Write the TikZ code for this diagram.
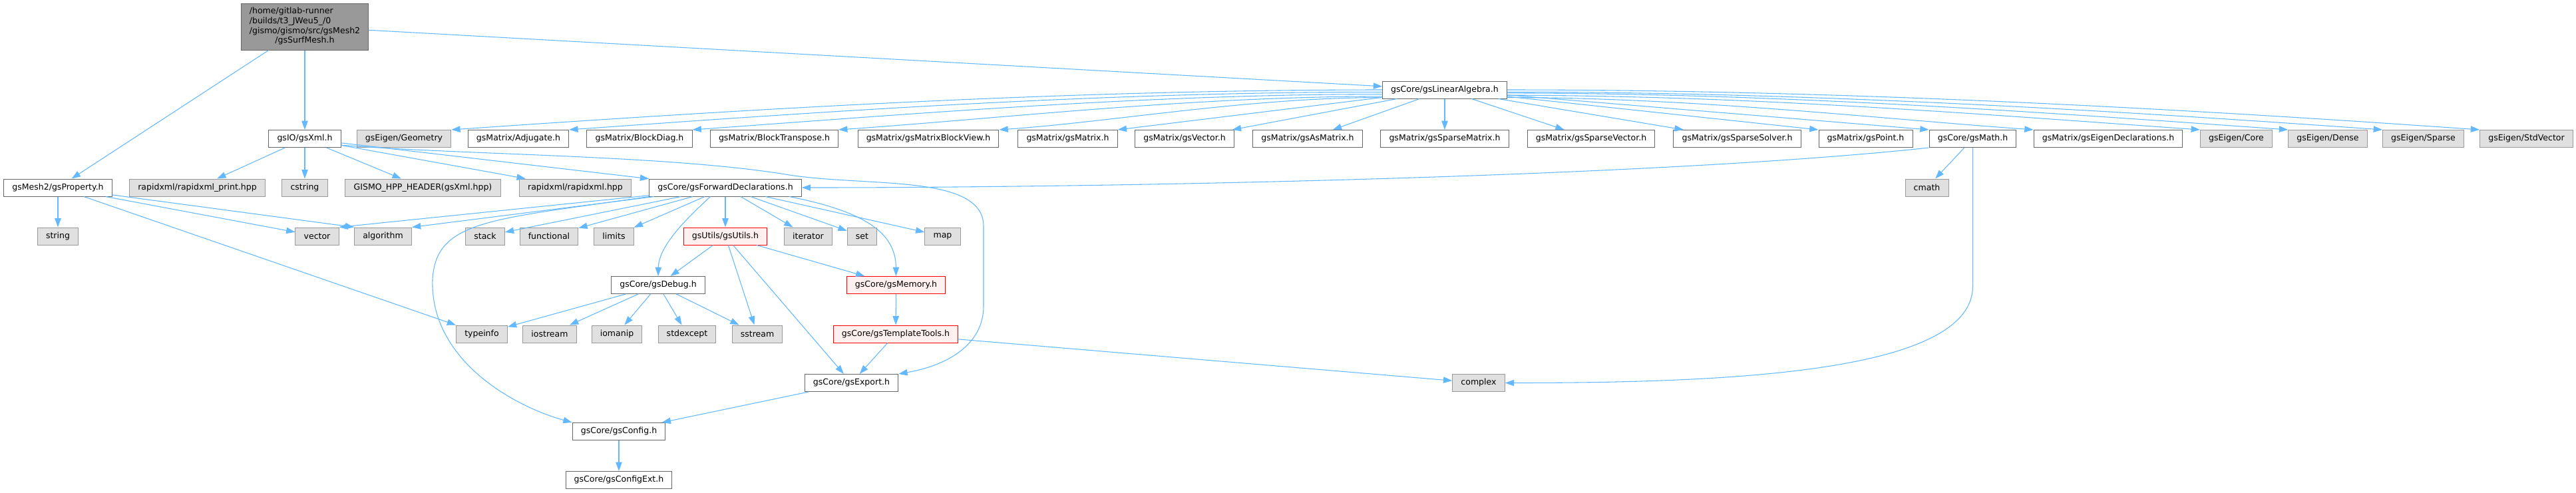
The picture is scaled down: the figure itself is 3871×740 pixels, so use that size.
\documentclass[tikz,border=0pt]{standalone}
\usepackage{fontspec}
\setmainfont{DejaVu Sans}
\usetikzlibrary{arrows.meta}
\definecolor{edgeblue}{HTML}{63B8FF}
\definecolor{syscol}{HTML}{E0E0E0}
\definecolor{rootcol}{HTML}{999999}
\definecolor{cutcol}{HTML}{FFF0F0}
\tikzset{
  hdr/.style={draw=black!60, fill=white, line width=0.75pt, minimum height=19.5pt, inner xsep=9.5pt, inner ysep=0pt, font=\fontsize{9.4}{11}\selectfont},
  syshdr/.style={hdr, fill=syscol, draw=black!40},
  cuthdr/.style={hdr, fill=cutcol, draw=red},
  roothdr/.style={hdr, fill=rootcol, draw=black!60, minimum height=52.5pt, inner xsep=9pt},
  incl/.style={draw=edgeblue, line width=0.8pt, -{Triangle[length=10pt,width=7pt]}}
}
\begin{document}
\begin{tikzpicture}[x=0.75pt, y=-0.75pt]
  \useasboundingbox (0,0) rectangle (3871,740);
  \node[roothdr] (gsSurfMesh) at (458,40) {\begin{tabular}{@{}l@{}}/home/gitlab-runner\\/builds/t3\_JWeu5\_/0\\/gismo/gismo/src/gsMesh2\\\multicolumn{1}{@{}c@{}}{/gsSurfMesh.h}\end{tabular}};
  \node[hdr] (gsLinAlg) at (2171,135) {gsCore/gsLinearAlgebra.h};
  \node[hdr] (gsXml) at (458,208.5) {gsIO/gsXml.h};
  \node[syshdr] (eigGeometry) at (607,208.5) {gsEigen/Geometry};
  \node[hdr] (adjugate) at (779,208.5) {gsMatrix/Adjugate.h};
  \node[hdr] (blockDiag) at (961,208.5) {gsMatrix/BlockDiag.h};
  \node[hdr] (blockTranspose) at (1163.5,208.5) {gsMatrix/BlockTranspose.h};
  \node[hdr] (blockView) at (1395,208.5) {gsMatrix/gsMatrixBlockView.h};
  \node[hdr] (gsMatrix) at (1604.5,208.5) {gsMatrix/gsMatrix.h};
  \node[hdr] (gsVector) at (1780,208.5) {gsMatrix/gsVector.h};
  \node[hdr] (gsAsMatrix) at (1965,208.5) {gsMatrix/gsAsMatrix.h};
  \node[hdr] (sparseMatrix) at (2171,208.5) {gsMatrix/gsSparseMatrix.h};
  \node[hdr] (sparseVector) at (2391,208.5) {gsMatrix/gsSparseVector.h};
  \node[hdr] (sparseSolver) at (2610.5,208.5) {gsMatrix/gsSparseSolver.h};
  \node[hdr] (gsPoint) at (2803.5,208.5) {gsMatrix/gsPoint.h};
  \node[hdr] (gsMath) at (2964.5,208.5) {gsCore/gsMath.h};
  \node[hdr] (eigenDecl) at (3168,208.5) {gsMatrix/gsEigenDeclarations.h};
  \node[syshdr] (eigCore) at (3360.5,208.5) {gsEigen/Core};
  \node[syshdr] (eigDense) at (3498,208.5) {gsEigen/Dense};
  \node[syshdr] (eigSparse) at (3641.5,208.5) {gsEigen/Sparse};
  \node[syshdr] (eigStdVector) at (3796.5,208.5) {gsEigen/StdVector};
  \node[hdr] (gsProperty) at (87,282) {gsMesh2/gsProperty.h};
  \node[syshdr] (rapidPrint) at (296.5,282) {rapidxml/rapidxml\_print.hpp};
  \node[syshdr] (stdCstring) at (458,282) {cstring};
  \node[syshdr] (gismoHpp) at (635.5,282) {GISMO\_HPP\_HEADER(gsXml.hpp)};
  \node[syshdr] (rapidxml) at (864.5,282) {rapidxml/rapidxml.hpp};
  \node[hdr] (gsFwdDecl) at (1090,282) {gsCore/gsForwardDeclarations.h};
  \node[syshdr] (stdCmath) at (2895.5,282) {cmath};
  \node[syshdr] (stdString) at (87,355) {string};
  \node[syshdr] (stdVector) at (476.5,355) {vector};
  \node[syshdr] (stdAlgorithm) at (575.5,355) {algorithm};
  \node[syshdr] (stdStack) at (729,355) {stack};
  \node[syshdr] (stdFunctional) at (825,355) {functional};
  \node[syshdr] (stdLimits) at (922.5,355) {limits};
  \node[cuthdr] (gsUtils) at (1090,355) {gsUtils/gsUtils.h};
  \node[syshdr] (stdIterator) at (1214.5,355) {iterator};
  \node[syshdr] (stdSet) at (1295.5,355) {set};
  \node[syshdr] (stdMap) at (1416.5,355) {map};
  \node[hdr] (gsDebug) at (989,428.5) {gsCore/gsDebug.h};
  \node[cuthdr] (gsMemory) at (1346.5,428.5) {gsCore/gsMemory.h};
  \node[syshdr] (stdTypeinfo) at (724,502) {typeinfo};
  \node[syshdr] (stdIostream) at (826,502) {iostream};
  \node[syshdr] (stdIomanip) at (927,502) {iomanip};
  \node[syshdr] (stdStdexcept) at (1032.5,502) {stdexcept};
  \node[syshdr] (stdSstream) at (1138,502) {sstream};
  \node[cuthdr] (gsTemplateTools) at (1346,502) {gsCore/gsTemplateTools.h};
  \node[hdr] (gsExport) at (1279.5,575.5) {gsCore/gsExport.h};
  \node[syshdr] (stdComplex) at (2222,575.5) {complex};
  \node[hdr] (gsConfig) at (930,648.5) {gsCore/gsConfig.h};
  \node[hdr] (gsConfigExt) at (930,721.5) {gsCore/gsConfigExt.h};

  \draw[incl] (gsSurfMesh) -- (gsProperty);
  \draw[incl] (gsSurfMesh) -- (gsXml);
  \draw[incl] (gsSurfMesh) -- (gsLinAlg);
  \draw[incl] (gsLinAlg.180.5) .. controls +(-490,0) and +(420,-29) .. (eigGeometry.north east);
  \draw[incl] (gsLinAlg.182.5) .. controls +(-430,0) and +(366,-26) .. (adjugate.north east);
  \draw[incl] (gsLinAlg.184.5) .. controls +(-360,0) and +(310,-22) .. (blockDiag.north east);
  \draw[incl] (gsLinAlg.186) .. controls +(-285,0) and +(245,-17) .. (blockTranspose.north east);
  \draw[incl] (gsLinAlg.187.5) .. controls +(-200,0) and +(172,-12) .. (blockView.north east);
  \draw[incl] (gsLinAlg) -- (gsMatrix.north east);
  \draw[incl] (gsLinAlg) -- (gsVector);
  \draw[incl] (gsLinAlg) -- (gsAsMatrix);
  \draw[incl] (gsLinAlg) -- (sparseMatrix);
  \draw[incl] (gsLinAlg) -- (sparseVector);
  \draw[incl] (gsLinAlg) -- (sparseSolver);
  \draw[incl] (gsLinAlg) -- (gsPoint.north west);
  \draw[incl] (gsLinAlg) -- (gsMath.north west);
  \draw[incl] (gsLinAlg.-7.5) .. controls +(276,0) and +(-237,-17) .. (eigenDecl.north west);
  \draw[incl] (gsLinAlg.-5.5) .. controls +(365,0) and +(-313,-22) .. (eigCore.north west);
  \draw[incl] (gsLinAlg.-3.5) .. controls +(410,0) and +(-352,-25) .. (eigDense.north west);
  \draw[incl] (gsLinAlg.-2) .. controls +(460,0) and +(-395,-28) .. (eigSparse.north west);
  \draw[incl] (gsLinAlg.-0.5) .. controls +(510,0) and +(-440,-31) .. (eigStdVector.north west);
  \draw[incl] (gsXml) -- (rapidPrint);
  \draw[incl] (gsXml) -- (stdCstring);
  \draw[incl] (gsXml) -- (gismoHpp);
  \draw[incl] (gsXml) -- (rapidxml);
  \draw[incl] (gsXml) -- (gsFwdDecl);
  \draw[incl] (gsXml.-10) .. controls (700,233) and (1000,233) .. (1180,262) .. controls (1300,282) and (1478,260) .. (1478,340) -- (1478,460) .. controls (1478,520) and (1420,550) .. (gsExport.north east);
  \draw[incl] (gsProperty) -- (stdString);
  \draw[incl] (gsProperty) -- (stdVector);
  \draw[incl] (gsProperty) -- (stdAlgorithm.north west);
  \draw[incl] (gsProperty) -- (stdTypeinfo);
  \draw[incl] (gsFwdDecl) -- (stdVector.north east);
  \draw[incl] (gsFwdDecl) -- (stdAlgorithm.north east);
  \draw[incl] (gsFwdDecl) -- (stdStack);
  \draw[incl] (gsFwdDecl) -- (stdFunctional);
  \draw[incl] (gsFwdDecl) -- (stdLimits);
  \draw[incl] (gsFwdDecl) -- (gsUtils);
  \draw[incl] (gsFwdDecl) -- (stdIterator);
  \draw[incl] (gsFwdDecl) -- (stdSet);
  \draw[incl] (gsFwdDecl) -- (stdMap);
  \draw[incl] (gsFwdDecl.-8) .. controls (1300,318) and (1346,350) .. (gsMemory.north);
  \draw[incl] (gsFwdDecl.-149) .. controls (1030,330) and (990,370) .. (gsDebug.north);
  \draw[incl] (gsFwdDecl.south west) .. controls (740,330) and (655,330) .. (650,420) .. controls (646,540) and (770,610) .. (gsConfig.north west);
  \draw[incl] (gsUtils) -- (gsDebug);
  \draw[incl] (gsUtils) -- (stdSstream);
  \draw[incl] (gsUtils) -- (gsExport);
  \draw[incl] (gsUtils) -- (gsMemory);
  \draw[incl] (gsDebug) -- (stdTypeinfo);
  \draw[incl] (gsDebug) -- (stdIostream);
  \draw[incl] (gsDebug) -- (stdIomanip);
  \draw[incl] (gsDebug) -- (stdStdexcept);
  \draw[incl] (gsDebug) -- (stdSstream);
  \draw[incl] (gsMemory) -- (gsTemplateTools);
  \draw[incl] (gsTemplateTools) -- (gsExport);
  \draw[incl] (gsTemplateTools) -- (stdComplex);
  \draw[incl] (gsExport) -- (gsConfig);
  \draw[incl] (gsConfig) -- (gsConfigExt);
  \draw[incl] (gsMath) -- (stdCmath);
  \draw[incl] (gsMath.south west) .. controls (2500,265) and (1700,282) .. (gsFwdDecl.east);
  \draw[incl] (gsMath.south) -- (2964.5,430) .. controls (2964.5,560) and (2600,575.5) .. (stdComplex.east);
\end{tikzpicture}
\end{document}
